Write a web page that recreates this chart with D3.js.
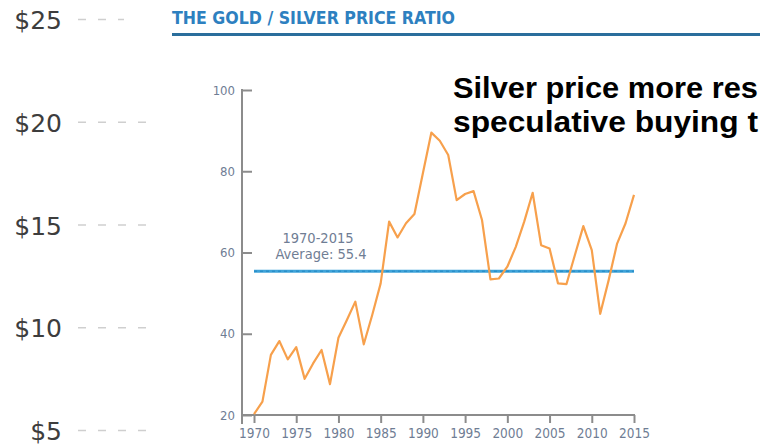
<!DOCTYPE html>
<html>
<head>
<meta charset="utf-8">
<script src="https://cdn.jsdelivr.net/npm/d3@7/dist/d3.min.js"></script>
<style>
  html, body { margin: 0; padding: 0; background: #fff; }
  svg { display: block; }
  .cond { font-family: "DejaVu Sans Condensed", "DejaVu Sans", sans-serif; font-stretch: condensed; }
</style>
</head>
<body>
<div id="chart"></div>
<script>
// Gold / silver price ratio, yearly values

const years = d3.range(1970, 2016);
const ratioValues = [
    20.2, 23.3, 34.8, 38.2, 33.7, 36.7, 28.9, 32.7, 36.0, 27.6,
    39.0, 43.4, 47.9, 37.4, 44.6, 52.4, 67.6, 63.7, 67.2, 69.5,
    79.5, 89.5, 87.5, 84.0, 72.9, 74.4, 75.1, 68.0, 53.4, 53.6,
    56.5, 61.4, 67.6, 74.7, 61.8, 61.0, 52.4, 52.2, 59.4, 66.5,
    60.6, 44.9, 53.2, 62.2, 67.2, 74.2
];
const averageValue = 55.4;
const yTicks = [20, 40, 60, 80, 100];
const xTicks = [1970, 1975, 1980, 1985, 1990, 1995, 2000, 2005, 2010, 2015];
const priceTicks = [25, 20, 15, 10, 5];
// the headline runs off the right edge of the picture; only the visible part is kept
const noteLines = ["Silver price more res", "speculative buying t"];

const width = 760;
const height = 446;

const svg = d3.select("#chart").append("svg")
    .attr("width", width)
    .attr("height", height)
    .attr("viewBox", `0 0 ${width} ${height}`);

// left price column from the page behind the inset
const priceScale = d3.scaleLinear().domain([5, 25]).range([440, 29]);

const priceGroup = svg.append("g").attr("class", "price-column");
priceTicks.forEach(p => {
    const yp = priceScale(p);
    priceGroup.append("text")
        .attr("x", 62)
        .attr("y", yp)
        .attr("text-anchor", "end")
        .attr("font-family", "DejaVu Sans, Verdana, sans-serif")
        .attr("font-size", 25)
        .attr("fill", "#3d3d3d")
        .text(`$${p}`);
    priceGroup.append("line")
        .attr("x1", 78)
        .attr("x2", p === 25 ? 124 : 150)
        .attr("y1", yp - 9.5)
        .attr("y2", yp - 9.5)
        .attr("stroke", "#cfcfcf")
        .attr("stroke-width", 1.5)
        .attr("stroke-dasharray", "8,12");
});

// title and rule
svg.append("text")
    .attr("class", "cond")
    .attr("x", 172)
    .attr("y", 24)
    .attr("font-size", 18)
    .attr("font-weight", "bold")
    .attr("fill", "#2d80c0")
    .attr("textLength", 283)
    .attr("lengthAdjust", "spacingAndGlyphs")
    .text("THE GOLD / SILVER PRICE RATIO");

svg.append("line")
    .attr("x1", 172)
    .attr("x2", width)
    .attr("y1", 34.5)
    .attr("y2", 34.5)
    .attr("stroke", "#2a6e9c")
    .attr("stroke-width", 3);

// inset line chart
const x = d3.scaleLinear().domain([1970, 2015]).range([254, 634]);
const y = d3.scaleLinear().domain([20, 100]).range([415, 90]);
const axisColor = "#8c8c8c";
const labelColor = "#6f7d94";

const root = svg.append("g").attr("class", "inset");

const yAxis = root.append("g")
    .attr("class", "cond")
    .attr("transform", "translate(242,0)")
    .call(d3.axisRight(y).tickValues(yTicks).tickSize(10).tickPadding(0));
yAxis.select(".domain").remove();
yAxis.selectAll(".tick line").attr("stroke", axisColor).attr("stroke-width", 2);
yAxis.selectAll(".tick text")
    .attr("x", -7)
    .attr("text-anchor", "end")
    .attr("font-size", 13)
    .attr("fill", labelColor);

root.append("line")
    .attr("x1", 242).attr("x2", 242)
    .attr("y1", y(100) - 1).attr("y2", 424)
    .attr("stroke", axisColor)
    .attr("stroke-width", 2);

const xAxis = root.append("g")
    .attr("class", "cond")
    .attr("transform", `translate(0,${y(20)})`)
    .call(d3.axisBottom(x).tickValues(xTicks).tickFormat(d3.format("d")).tickSize(8).tickPadding(5));
xAxis.select(".domain").remove();
xAxis.selectAll(".tick line").attr("stroke", axisColor).attr("stroke-width", 2);
xAxis.selectAll(".tick text")
    .attr("font-size", 13.5)
    .attr("fill", labelColor);

root.append("line")
    .attr("x1", 242).attr("x2", x(2015) + 1)
    .attr("y1", y(20)).attr("y2", y(20))
    .attr("stroke", axisColor)
    .attr("stroke-width", 2);

// average line
root.append("line")
    .attr("x1", x(1970)).attr("x2", x(2015))
    .attr("y1", y(averageValue)).attr("y2", y(averageValue))
    .attr("stroke", "#3fa3d9")
    .attr("stroke-width", 3);
root.append("line")
    .attr("x1", x(1970)).attr("x2", x(2015))
    .attr("y1", y(averageValue)).attr("y2", y(averageValue))
    .attr("stroke", "#2187c2")
    .attr("stroke-width", 1)
    .attr("stroke-dasharray", "3,3");

root.append("text")
    .attr("class", "cond")
    .attr("x", 318)
    .attr("y", 243)
    .attr("text-anchor", "middle")
    .attr("font-size", 14.5)
    .attr("fill", labelColor)
    .text("1970-2015");
root.append("text")
    .attr("class", "cond")
    .attr("x", 321)
    .attr("y", 259)
    .attr("text-anchor", "middle")
    .attr("font-size", 14.5)
    .attr("fill", labelColor)
    .text(`Average: ${averageValue}`);

const line = d3.line()
    .x((d, i) => x(years[i]))
    .y(d => y(d));

root.append("path")
    .datum(ratioValues)
    .attr("fill", "none")
    .attr("stroke", "#f7a04c")
    .attr("stroke-width", 2.2)
    .attr("stroke-linejoin", "round")
    .attr("d", line);

// headline
const note = svg.append("g")
    .attr("font-family", "Liberation Sans, Arial, sans-serif")
    .attr("font-weight", "bold")
    .attr("font-size", 29)
    .attr("fill", "#000");
noteLines.forEach((t, i) => {
    note.append("text")
        .attr("x", 453)
        .attr("y", 98 + i * 34)
        .attr("textLength", 305)
        .attr("lengthAdjust", "spacingAndGlyphs")
        .text(t);
});
</script>
</body>
</html>
